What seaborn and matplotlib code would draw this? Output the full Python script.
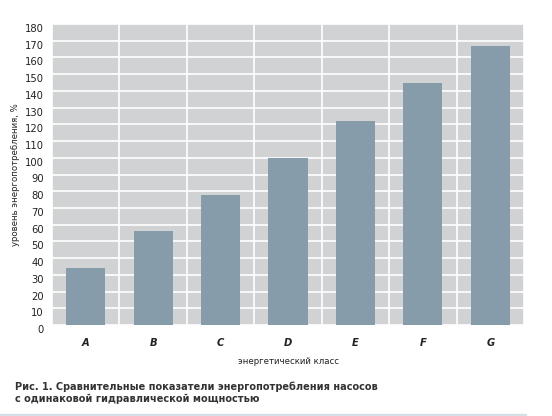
import matplotlib
matplotlib.use("Agg")
import matplotlib.pyplot as plt
import matplotlib.transforms as mtransforms
from matplotlib.ticker import MultipleLocator
import seaborn as sns
import pandas as pd

# Данные
classes = ["A", "B", "C", "D", "E", "F", "G"]
values = [34, 56, 78, 100, 122, 145, 167]

y_label = "уровень энергопотребления, %"
x_label = "энергетический класс"
caption = ("Рис. 1. Сравнительные показатели энергопотребления насосов\n"
           "с одинаковой гидравлической мощностью")

df = pd.DataFrame({"Класс": classes, "Уровень": values})

sns.set_style("white")
plt.rcParams["font.family"] = ["DejaVu Sans"]
plt.rcParams["font.stretch"] = "condensed"  # узкий шрифт, как в оригинале

fig = plt.figure(figsize=(5.52, 4.16), dpi=100)
ax = fig.add_axes([52 / 552, 1 - 325 / 416, 472 / 552, 301 / 416])

sns.barplot(data=df, x="Класс", y="Уровень", color="#869cab",
            saturation=1, width=0.58, linewidth=0, edgecolor="none",
            ax=ax, zorder=3)

# Серый фон с белой сеткой
ax.set_facecolor("#d1d2d4")
ax.set_ylim(0, 180)
ax.set_xlim(-0.5, len(classes) - 0.5)
ax.yaxis.set_major_locator(MultipleLocator(10))
ax.xaxis.set_minor_locator(MultipleLocator(1, offset=0.5))
ax.grid(axis="y", which="major", color="white", linewidth=1.2, zorder=1)
ax.grid(axis="x", which="minor", color="white", linewidth=1.2, zorder=1)
ax.grid(axis="x", which="major", visible=False)
ax.set_axisbelow(True)
for s in ax.spines.values():
    s.set_visible(False)

ax.tick_params(axis="both", which="both", length=0)
ax.tick_params(axis="y", labelsize=8, pad=6, labelcolor="#222222")
ax.tick_params(axis="x", labelsize=8, pad=9)
for lab in ax.get_xticklabels():
    lab.set_fontweight("bold")
    lab.set_fontstyle("italic")
    lab.set_color("#222222")

# подписи оси Y чуть ниже линий сетки, как в оригинале
shift = mtransforms.ScaledTranslation(0, -4 / 100, fig.dpi_scale_trans)
for lab in ax.get_yticklabels():
    lab.set_transform(lab.get_transform() + shift)

ax.set_xlabel(x_label, fontsize=6.8, labelpad=7, color="#222222")
ax.set_ylabel(y_label, fontsize=6.8, color="#222222")
ax.yaxis.set_label_coords(-32 / 472, 0.5)

# Подпись к рисунку
fig.text(15 / 552, 1 - 393 / 416, caption, fontsize=7.8, fontweight="bold",
         color="#333333", va="center", ha="left", linespacing=1.2)

# светлая полоса внизу
fig.add_artist(plt.Line2D([0, 525 / 552], [1 - 414.5 / 416] * 2,
                          color="#d5dfe6", linewidth=2.5,
                          transform=fig.transFigure))

fig.savefig("out.png", dpi=100, facecolor="white")
